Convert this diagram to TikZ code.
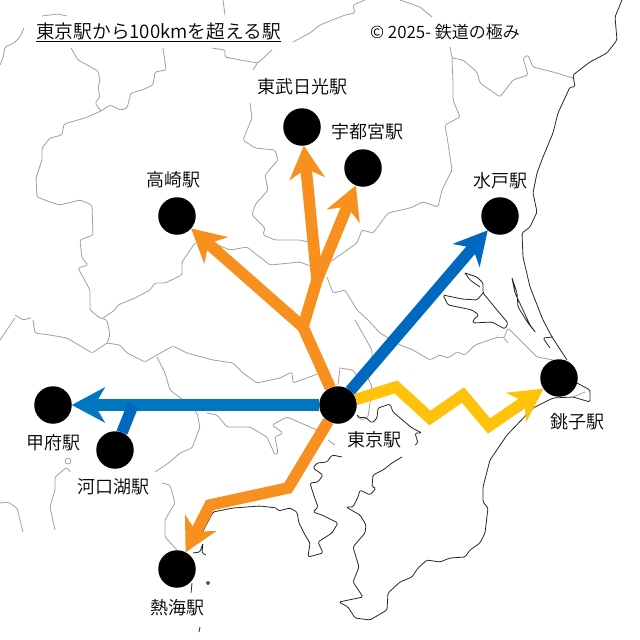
\documentclass[tikz,border=0pt]{standalone}
\usepackage{fontspec}
\setmainfont{Noto Sans CJK JP DemiLight}
\usetikzlibrary{arrows.meta}
\definecolor{lineorange}{HTML}{F7901E}
\definecolor{lineblue}{HTML}{0068BF}
\definecolor{lineazure}{HTML}{0077BE}
\definecolor{lineyellow}{HTML}{FFC20A}
\tikzset{
	station/.style={circle, fill=black, inner sep=0pt, outer sep=0pt, minimum size=37.5pt},
	stationlabel/.style={inner sep=0pt, font=\fontsize{18}{20}\selectfont},
	border/.style={draw=gray!75, line width=0.8pt, line join=round, rounded corners=1.5pt},
	coast/.style={draw=black!85, line width=0.8pt, line join=round, rounded corners=1.5pt},
	route/.style={line width=11.5pt, line join=miter},
	routehead/.style={-{Stealth[length=33pt, width=35pt, inset=10pt]}},
}
\begin{document}
\begin{tikzpicture}[x=1pt, y=-1pt]
				\useasboundingbox (0,0) rectangle (640,640);
				% prefecture borders
				\draw[border] (24,28) -- (20,37) -- (14,43) -- (5,47) -- (3,58) -- (0,65);
				\draw[border] (42,16) -- (58,14) -- (67,16);
				\draw[border] (71,48) -- (78,60) -- (98,71) -- (100,80) -- (98,88) -- (100,97) -- (95,103) -- (101,111);
				\draw[border] (163,48) -- (165,62) -- (166,70) -- (155,72) -- (153,85) -- (142,90) -- (131,93) -- (127,108) -- (121,110) -- (110,105) -- (101,111) -- (85,118) -- (64,124) -- (62,135) -- (50,138) -- (42,148) -- (42,160) -- (36,178) -- (37,197) -- (50,202) -- (60,205) -- (80,200) -- (92,205) -- (93,235) -- (80,240) -- (82,258) -- (88,265) -- (78,268) -- (90,290) -- (90,310) -- (100,318) -- (107,320) -- (110,335) -- (107,343);
				\draw[border] (195,243) -- (182,262) -- (182,275) -- (165,283) -- (155,283) -- (150,290) -- (135,298) -- (118,305) -- (115,310) -- (103,318);
				\draw[border] (195,243) -- (213,243) -- (230,250) -- (247,247) -- (270,265) -- (300,262) -- (315,268);
				\draw[border] (15,315) -- (23,320) -- (31,318);
				\draw[border] (15,318) -- (0,340);
				\draw[border] (33,320) -- (35,333) -- (50,335) -- (67,338) -- (92,353) -- (107,343) -- (120,345) -- (127,353) -- (145,362) -- (157,355) -- (173,346) -- (187,353) -- (213,360) -- (233,363) -- (243,373) -- (257,383) -- (280,378) -- (292,372) -- (293,383) -- (307,378) -- (320,373);
				\draw[border] (250,103) -- (252,118) -- (243,140) -- (255,148) -- (275,150) -- (278,160) -- (265,175) -- (268,190) -- (255,205) -- (252,215) -- (265,228) -- (263,235) -- (275,240) -- (300,240) -- (320,245);
				\draw[border] (212,48) -- (225,50) -- (225,57) -- (240,60) -- (258,63) -- (272,50);
				\draw[border] (223,0) -- (225,15);
				\draw[border] (253,70) -- (258,62);
				\draw[border] (293,42) -- (310,33) -- (320,25) -- (345,15) -- (355,13) -- (353,5) -- (365,0);
				\draw[border] (400,0) -- (420,7) -- (432,17);
				\draw[border] (450,47) -- (452,58) -- (463,60) -- (477,72) -- (480,83) -- (500,97) -- (513,80) -- (528,75) -- (523,58) -- (528,55) -- (533,67) -- (553,72) -- (573,78);
				\draw[border] (452,58) -- (453,83) -- (453,100) -- (460,117) -- (445,125) -- (448,143) -- (452,170) -- (442,190) -- (438,207) -- (423,202) -- (410,208) -- (388,213) -- (373,233) -- (362,230) -- (357,243) -- (333,260) -- (322,266);
				\draw[border] (327,277) -- (333,293) -- (345,290) -- (357,310) -- (368,320) -- (380,333) -- (400,345) -- (413,350) -- (430,360) -- (440,355) -- (448,358) -- (457,352) -- (465,355) -- (475,345) -- (498,337) -- (504,338) -- (508,328) -- (537,357) -- (553,360);
				\draw[border] (504,338) -- (508,343);
				\draw[border] (355,320) -- (372,350) -- (372,360) -- (368,378) -- (372,387) -- (370,403) -- (368,417) -- (363,420) -- (357,417);
				\draw[border] (340,368) -- (353,370) -- (358,378);
				\draw[border] (340,368) -- (338,385);
				\draw[border] (328,440) -- (335,445);
				\draw[border] (207,413) -- (217,415) -- (227,427) -- (250,427) -- (267,437) -- (275,455) -- (278,453) -- (275,437) -- (283,433) -- (272,425) -- (287,417) -- (317,430);
				\draw[border] (157,357) -- (165,373) -- (170,390) -- (183,400) -- (197,413) -- (200,427) -- (192,448) -- (180,453) -- (170,462) -- (155,472);
				\draw[border] (162,483) -- (170,485) -- (175,503) -- (165,520) -- (165,537) -- (177,550);
				\draw[border] (70,472) -- (67,467) -- (55,477) -- (55,490) -- (50,507) -- (55,530);
				\draw[border] (68,461) circle (3);
				\draw[border] (0,503) -- (8,502) -- (17,508) -- (23,532);
				\draw[border] (573,397) -- (585,392);
				% coast lines
				\draw[coast] (622,0) -- (615,17) -- (617,40) -- (607,53) -- (590,62) -- (573,75) -- (575,87) -- (570,87) -- (558,113) -- (553,133) -- (543,157) -- (537,173) -- (533,193) -- (537,212) -- (530,227) -- (522,233) -- (523,257) -- (530,287) -- (543,320) -- (552,337) -- (567,360);
				\draw[coast] (577,383) -- (590,390) -- (590,402) -- (573,397) -- (553,398) -- (533,408) -- (507,435) -- (490,460) -- (483,487) -- (483,502) -- (488,508) -- (485,533) -- (480,543) -- (470,550) -- (465,557) -- (450,558) -- (440,562) -- (427,560) -- (418,568) -- (412,577) -- (400,582) -- (388,593) -- (387,610) -- (370,620) -- (355,618) -- (348,607) -- (339,602) -- (363,597) -- (353,582) -- (359,567) -- (353,547) -- (365,533) -- (366,525) -- (360,515) -- (346,507) -- (353,507) -- (358,497) -- (360,490) -- (370,495) -- (376,488) -- (372,487) -- (373,475) -- (383,470) -- (392,463) -- (402,457);
				\draw[coast] (357,415) -- (360,418) -- (365,417) -- (372,423) -- (377,418) -- (378,408) -- (390,404) -- (393,412) -- (412,428) -- (422,433) -- (415,433) -- (418,443) -- (415,445);
				\draw[coast] (342,457) -- (332,455) -- (327,462) -- (317,463) -- (313,468) -- (323,475) -- (318,482) -- (310,483) -- (313,493) -- (318,507) -- (313,512) -- (322,515) -- (338,523) -- (332,533) -- (318,542) -- (323,553) -- (308,557) -- (310,543) -- (305,535) -- (299,523) -- (297,512) -- (290,508) -- (278,511) -- (277,508) -- (260,506) -- (233,508) -- (213,512) -- (202,533);
				\draw[coast] (193,553) -- (200,552) -- (203,543) -- (202,553) -- (206,555);
				\draw[coast] (192,583) -- (191,593);
				\draw[coast] (208,583) circle (1.5);
				\draw[coast] (200,627) -- (199,632);
				\draw[coast] (465,273) -- (477,277) -- (483,283) -- (483,293) -- (497,310) -- (508,323) -- (505,329) -- (492,322) -- (473,323) -- (473,320) -- (479,315) -- (472,310) -- (463,308) -- (448,305) -- (443,295) -- (462,299) -- (477,300) -- (483,293);
				\draw[coast] (465,273) -- (470,280) -- (480,287);
				\draw[coast] (512,278) -- (517,293) -- (518,307) -- (528,323) -- (536,333) -- (530,325) -- (523,310) -- (515,293) -- (512,278);
				\draw[coast] (550,348) -- (543,338) -- (553,337);
				% stations
				\node[station] (Nikko)at(302,127) {};
				\node[station] (Utsunomiya)at(363,168) {};
				\node[station] (Takasaki)at(177,216) {};
				\node[station] (Mito)at(500,216) {};
				\node[station] (Tokyo)at(338,405) {};
				\node[station] (Choshi)at(559,378) {};
				\node[station] (Kofu)at(53,405) {};
				\node[station] (Kawaguchiko)at(115,450) {};
				\node[station] (Atami)at(177,569) {};
				% bends of the routes
				\coordinate (JA)at(303,327);
				\coordinate (JB)at(317,280);
				\coordinate (JK)at(133,405);
				\coordinate (YA)at(396,387);
				\coordinate (YB)at(430,418);
				\coordinate (YC)at(463,395);
				\coordinate (YD)at(489,426);
				\coordinate (AA)at(288,488);
				\coordinate (AB)at(210,505);
				% routes
				\draw[route, lineorange] (Tokyo) -- (JA) -- (JB);
				\draw[route, routehead, lineorange] (JA) -- (Takasaki);
				\draw[route, routehead, lineorange] (JB) -- (Nikko);
				\draw[route, routehead, lineorange] (JB) -- (Utsunomiya);
				\draw[route, routehead, lineorange] (Tokyo) -- (AA) -- (AB) -- (Atami);
				\draw[route, routehead, lineblue] (Tokyo) -- (Mito);
				\draw[route, routehead, lineazure] (Tokyo) -- (Kofu);
				\draw[route, lineblue] (Kawaguchiko) -- (JK);
				\draw[route, routehead, lineyellow] (Tokyo) -- (YA) -- (YB) -- (YC) -- (YD) -- (Choshi);
				% texts
				\node[font=\fontsize{18.7}{22}\selectfont, inner sep=0pt] (Title)at(158.5,32) {\underline{東京駅から100kmを超える駅}};
				\node[font=\fontsize{17}{20}\selectfont, inner sep=0pt] (Credit)at(445,32) {© 2025- 鉄道の極み};
				\node[stationlabel] (LNikko)at(302,87) {東武日光駅};
				\node[stationlabel] (LUtsunomiya)at(367,132) {宇都宮駅};
				\node[stationlabel] (LTakasaki)at(173,180) {高崎駅};
				\node[stationlabel] (LMito)at(500,181) {水戸駅};
				\node[stationlabel] (LTokyo)at(374,440) {東京駅};
				\node[stationlabel] (LChoshi)at(577,422) {銚子駅};
				\node[stationlabel] (LKofu)at(53,443) {甲府駅};
				\node[stationlabel] (LKawaguchiko)at(113,487) {河口湖駅};
				\node[stationlabel] (LAtami)at(177,608) {熱海駅};
			\end{tikzpicture}
\end{document}
